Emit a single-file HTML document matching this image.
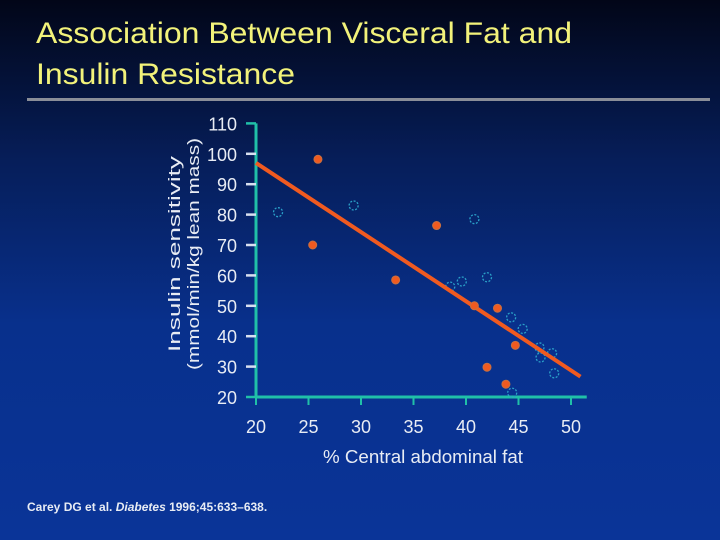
<!DOCTYPE html>
<html><head><meta charset="utf-8"><style>html,body{margin:0;padding:0;width:720px;height:540px;overflow:hidden}svg{display:block}</style></head>
<body>
<svg id="chart" width="720" height="540" xmlns="http://www.w3.org/2000/svg" font-family="Liberation Sans, sans-serif">
<defs><linearGradient id="bg" x1="0" y1="0" x2="0" y2="1"><stop offset="0" stop-color="#020618"/><stop offset="0.3" stop-color="#061e5a"/><stop offset="0.6" stop-color="#08308c"/><stop offset="1" stop-color="#0a3498"/></linearGradient></defs>
<rect width="720" height="540" fill="url(#bg)"/>
<text x="36" y="43" font-size="30" fill="#f2f27a" textLength="536" lengthAdjust="spacingAndGlyphs">Association Between Visceral Fat and</text>
<text x="36" y="84" font-size="30" fill="#f2f27a" textLength="259" lengthAdjust="spacingAndGlyphs">Insulin Resistance</text>
<rect x="27" y="98" width="683" height="3" fill="#8a8e98"/>
<g id="plot"></g>
<text x="423" y="463" font-size="18" fill="#e8ecf4" text-anchor="middle" textLength="200" lengthAdjust="spacingAndGlyphs">% Central abdominal fat</text>
<text transform="translate(180,254) rotate(-90)" font-size="17" fill="#e8ecf4" text-anchor="middle" textLength="196" lengthAdjust="spacingAndGlyphs">Insulin sensitivity</text>
<text transform="translate(199,254) rotate(-90)" font-size="17" fill="#e8ecf4" text-anchor="middle" textLength="232" lengthAdjust="spacingAndGlyphs">(mmol/min/kg lean mass)</text>
<text x="27" y="511" font-size="12" fill="#e8ecf4" font-weight="bold">Carey DG et al. <tspan font-style="italic">Diabetes</tspan> 1996;45:633–638.</text>
</svg>
<script>
const xTicks=[20,25,30,35,40,45,50];
const yTicks=[20,30,40,50,60,70,80,90,100,110];
const filledX=[25.9,25.4,33.3,37.2,40.8,43.0,44.7,42.0,43.8];
const filledY=[98.2,70,58.5,76.4,50,49.2,37,29.8,24.2];
const openX=[22.1,29.3,40.8,42.0,39.6,38.5,44.3,45.4,47.0,47.1,48.2,48.4,44.4];
const openY=[80.8,83,78.5,59.4,58,56.3,46.2,42.4,36.3,33,34.4,27.8,21.4];
const fitX=[20,50.9];
const fitY=[97,26.7];
const NS='http://www.w3.org/2000/svg';
const X=v=>256+(v-20)*10.5;
const Y=v=>397-(v-20)*3.04;
const g=document.getElementById('plot');
function mk(t,a){const e=document.createElementNS(NS,t);for(const k in a)e.setAttribute(k,a[k]);g.appendChild(e);return e;}
let e;
e=mk('line',{x1:256,y1:Y(110),x2:256,y2:Y(20),stroke:'#20c0a8','stroke-width':3});


e=mk('line',{x1:256,y1:Y(20),x2:X(51.5),y2:Y(20),stroke:'#20c0a8','stroke-width':3});


yTicks.forEach(v=>{
  e=mk('line',{x1:246,y1:Y(v),x2:256,y2:Y(v),stroke:(v==20||v==110)?'#20c0a8':'#d8e0f0','stroke-width':2.5});
  
  
  e=mk('text',{x:237,y:Y(v)+7,'font-size':18,fill:'#e8ecf4','text-anchor':'end'});
  e.textContent=v;
  
  
});
xTicks.forEach(v=>{
  e=mk('line',{x1:X(v),y1:Y(20),x2:X(v),y2:Y(20)+8,stroke:'#20c0a8','stroke-width':2});
  
  
  e=mk('text',{x:X(v),y:433,'font-size':18,fill:'#e8ecf4','text-anchor':'middle'});
  e.textContent=v;
  
  
});
openX.forEach((v,i)=>{
  e=mk('circle',{cx:X(v),cy:Y(openY[i]),r:4.5,fill:'none',stroke:'#2aa0c8','stroke-width':1.3,'stroke-dasharray':'2 1.5'});
  
  
});
e=mk('line',{x1:X(fitX[0]),y1:Y(fitY[0]),x2:X(fitX[1]),y2:Y(fitY[1]),stroke:'#f05a20','stroke-width':4});


filledX.forEach((v,i)=>{
  e=mk('circle',{cx:X(v),cy:Y(filledY[i]),r:4,fill:'#f05a20',stroke:'#c87040','stroke-width':1});
  
  
});
</script>
</body></html>
